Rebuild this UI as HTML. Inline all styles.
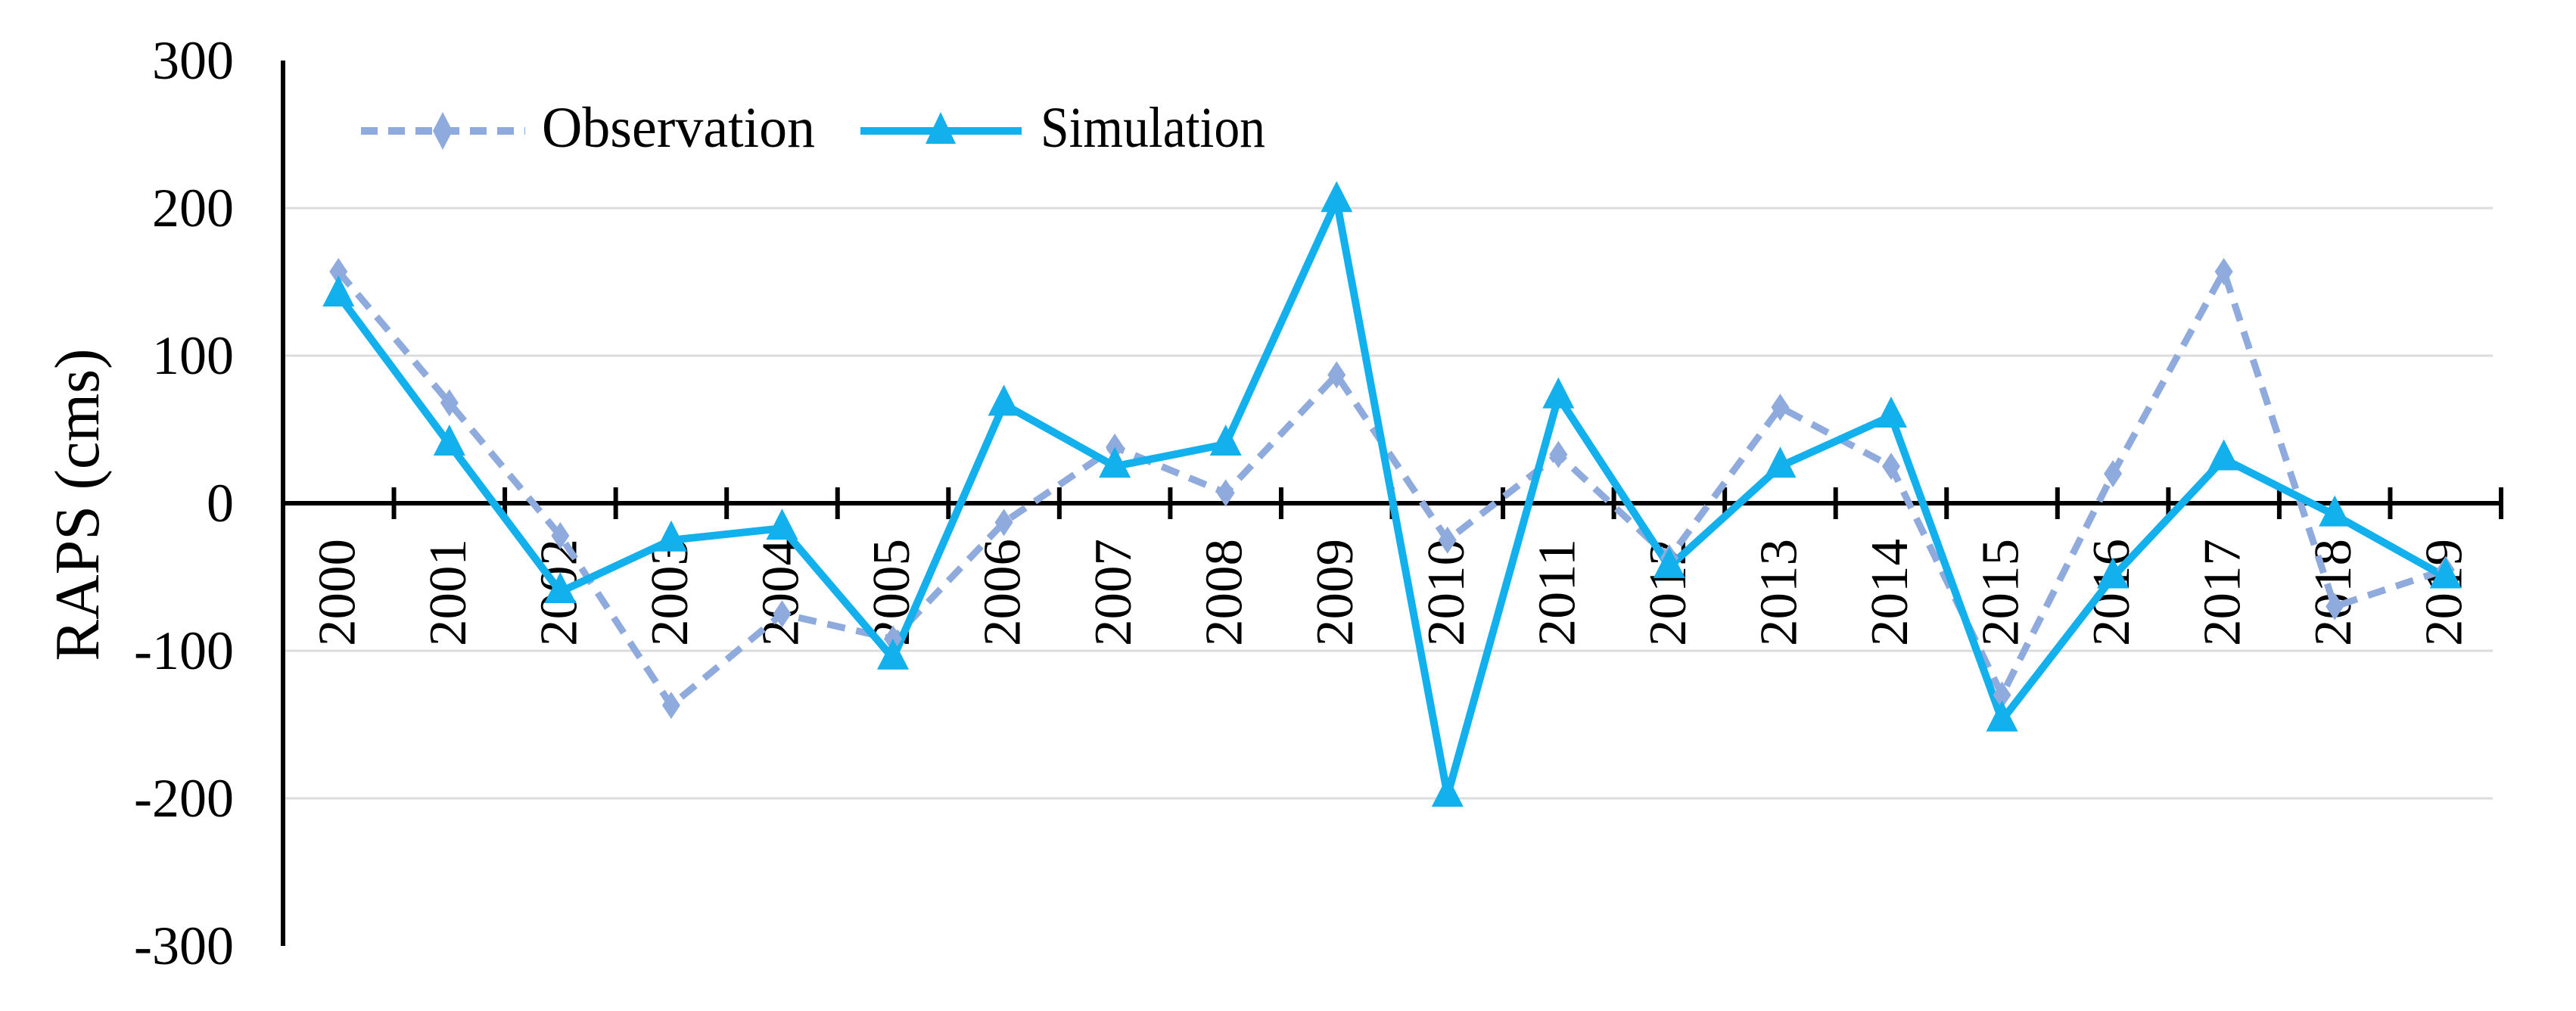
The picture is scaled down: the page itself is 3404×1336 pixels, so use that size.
<!DOCTYPE html>
<html><head><meta charset="utf-8"><style>
html,body{margin:0;padding:0;background:#fff;}
svg{display:block;}
text{font-family:"Liberation Serif","Times New Roman",serif;fill:#000;}
</style></head><body>
<svg id="chart" width="3404" height="1336" viewBox="0 0 3404 1336" xmlns="http://www.w3.org/2000/svg">
<g id="grid"></g>
<g id="yaxis"></g>
<g id="xaxis"></g>
<g id="series"></g>
<text transform="translate(130,667) rotate(-90)" text-anchor="middle" font-size="84" textLength="413" lengthAdjust="spacingAndGlyphs">RAPS (cms)</text>
<g>
  <g>
    <line x1="477" y1="173" x2="694" y2="173" stroke="#8FAADC" stroke-width="10" stroke-dasharray="22,14"/>
    <path d="M585,148 L598,173 L585,198 L572,173 Z" fill="#8FAADC"/>
    <text x="716" y="194" font-size="76" textLength="361" lengthAdjust="spacingAndGlyphs">Observation</text>
  </g>
  <g>
    <line x1="1137" y1="173" x2="1350" y2="173" stroke="#12B0EC" stroke-width="10"/>
    <path d="M1243,148 L1263,190 L1223,190 Z" fill="#12B0EC"/>
    <text x="1375" y="194" font-size="76" textLength="297" lengthAdjust="spacingAndGlyphs">Simulation</text>
  </g>
</g>
</svg>
<script>
const years = ["2000","2001","2002","2003","2004","2005","2006","2007","2008","2009","2010","2011","2012","2013","2014","2015","2016","2017","2018","2019"];
const observation = [157,68,-22,-137,-75,-92,-13,38,7,87,-25,33,-37,65,25,-130,20,157,-70,-45];
const simulation = [141,40,-60,-25,-17,-105,67,25,40,205,-198,72,-43,25,59,-147,-50,30,-8,-50];
const yTicks = [300,200,100,0,-100,-200,-300];

const NS = "http://www.w3.org/2000/svg";
const X0 = 374, X1 = 3305, Y0val = 665, PPU = 1.95;
const bw = (X1 - X0) / years.length;
function xs(i){ return X0 + bw * (i + 0.5); }
function ys(v){ return Y0val - v * PPU; }
function mk(tag, attrs, parent){
  const e = document.createElementNS(NS, tag);
  for (const k in attrs) e.setAttribute(k, attrs[k]);
  parent.appendChild(e);
  return e;
}
const grid = document.getElementById('grid');
const yaxis = document.getElementById('yaxis');
const xaxis = document.getElementById('xaxis');
const series = document.getElementById('series');

yTicks.forEach(t => {
  if (t !== 0 && Math.abs(t) !== 300) {
    const g = mk('line', {x1: X0, x2: 3294, y1: ys(t), y2: ys(t), stroke: '#dcdcdc', 'stroke-width': 3}, grid);
    
    
  }
  const lb = mk('text', {x: 309, y: ys(t) + 24, 'text-anchor': 'end', 'font-size': 72}, yaxis);
  lb.textContent = String(t);
  
  
});
const yl = mk('line', {x1: X0, x2: X0, y1: ys(300), y2: ys(-300), stroke: '#000', 'stroke-width': 6}, yaxis);



const xl = mk('line', {x1: X0, x2: X1, y1: ys(0), y2: ys(0), stroke: '#000', 'stroke-width': 6}, xaxis);


for (let i = 1; i <= years.length; i++) {
  const tx = X0 + bw * i;
  const tk = mk('line', {x1: tx, x2: tx, y1: ys(0) - 21, y2: ys(0) + 21, stroke: '#000', 'stroke-width': 6}, xaxis);
  
  
}
years.forEach((y, i) => {
  const t = mk('text', {transform: 'translate(' + (xs(i) + 21) + ',712) rotate(-90)', 'text-anchor': 'end', 'font-size': 70, textLength: 142, lengthAdjust: 'spacingAndGlyphs'}, xaxis);
  t.textContent = y;
  
  
});

const obsPts = observation.map((v, i) => xs(i) + ',' + ys(v)).join(' ');
const ol = mk('polyline', {points: obsPts, fill: 'none', stroke: '#8FAADC', 'stroke-width': 9, 'stroke-dasharray': '24,15', 'stroke-linejoin': 'round'}, series);


const simPts = simulation.map((v, i) => xs(i) + ',' + ys(v)).join(' ');
const sl = mk('polyline', {points: simPts, fill: 'none', stroke: '#12B0EC', 'stroke-width': 10, 'stroke-linejoin': 'miter'}, series);



observation.forEach((v, i) => {
  const x = xs(i), y = ys(v);
  const d = mk('path', {d: 'M' + x + ',' + (y - 18) + ' L' + (x + 12) + ',' + y + ' L' + x + ',' + (y + 18) + ' L' + (x - 12) + ',' + y + ' Z', fill: '#8FAADC'}, series);
  
  
});
simulation.forEach((v, i) => {
  const x = xs(i), y = ys(v);
  const d = mk('path', {d: 'M' + x + ',' + (y - 26) + ' L' + (x + 21) + ',' + (y + 15) + ' L' + (x - 21) + ',' + (y + 15) + ' Z', fill: '#12B0EC'}, series);
  
  
});
</script>
</body></html>
